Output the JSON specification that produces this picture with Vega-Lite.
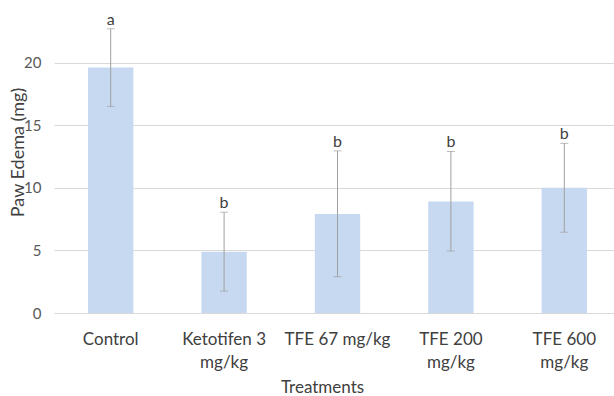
{
  "$schema": "https://vega.github.io/schema/vega-lite/v6.json",
  "autosize": "none",
  "width": 560,
  "height": 313,
  "padding": {"left": 54, "top": 0, "right": 0, "bottom": 83},
  "background": "white",
  "config": {
    "view": {"stroke": null},
    "font": "Lato",
    "axis": {"labelFont": "Lato", "titleFont": "Lato", "titleFontWeight": "normal"}
  },
  "data": {
    "values": [
      {"treatment": "Control", "edema": 19.6, "lo": 16.5, "hi": 22.7, "group": "a"},
      {"treatment": "Ketotifen 3 mg/kg", "edema": 4.9, "lo": 1.75, "hi": 8.05, "group": "b"},
      {"treatment": "TFE 67 mg/kg", "edema": 7.9, "lo": 2.9, "hi": 12.95, "group": "b"},
      {"treatment": "TFE 200 mg/kg", "edema": 8.9, "lo": 4.95, "hi": 12.9, "group": "b"},
      {"treatment": "TFE 600 mg/kg", "edema": 10.0, "lo": 6.45, "hi": 13.55, "group": "b"}
    ]
  },
  "encoding": {
    "x": {
      "field": "treatment",
      "type": "nominal",
      "sort": null,
      "scale": {"range": [0, 567], "paddingInner": 0.6, "paddingOuter": 0.3},
      "axis": {
        "title": "Treatments",
        "titleFontSize": 17,
        "titleColor": "#404040",
        "titleX": 268,
        "titleY": 74,
        "titleBaseline": "middle",
        "labelAngle": 0,
        "labelFontSize": 17,
        "labelColor": "#404040",
        "labelPadding": 26,
        "labelLineHeight": 23,
        "labelBaseline": "middle",
        "labelExpr": "datum.label == 'Control' || datum.label == 'TFE 67 mg/kg' ? datum.label : [replace(datum.label, ' mg/kg', ''), 'mg/kg']",
        "ticks": false,
        "domain": false,
        "grid": false
      }
    }
  },
  "layer": [
    {
      "mark": {"type": "bar", "color": "#c6d9f1"},
      "encoding": {
        "y": {
          "field": "edema",
          "type": "quantitative",
          "scale": {"domain": [0, 25], "nice": false},
          "axis": {
            "title": "Paw Edema (mg)",
            "titleFontSize": 18,
            "titleColor": "#404040",
            "titleX": -36,
            "titleY": 152,
            "titleAngle": -90,
            "titleBaseline": "middle",
            "titleAlign": "center",
            "values": [0, 5, 10, 15, 20],
            "labelFontSize": 15,
            "labelColor": "#595959",
            "labelPadding": 13,
            "ticks": false,
            "domain": false,
            "grid": true,
            "gridColor": "#d9d9d9",
            "gridWidth": 1
          }
        }
      }
    },
    {
      "mark": {"type": "rule", "color": "#a0a0a0", "strokeWidth": 1},
      "encoding": {
        "y": {"field": "lo", "type": "quantitative"},
        "y2": {"field": "hi"}
      }
    },
    {
      "mark": {"type": "tick", "color": "#a0a0a0", "size": 8, "thickness": 1},
      "encoding": {"y": {"field": "lo", "type": "quantitative"}}
    },
    {
      "mark": {"type": "tick", "color": "#a0a0a0", "size": 8, "thickness": 1},
      "encoding": {"y": {"field": "hi", "type": "quantitative"}}
    },
    {
      "mark": {"type": "text", "fontSize": 16, "color": "#404040", "baseline": "alphabetic", "dy": -4, "font": "Lato"},
      "encoding": {
        "y": {"field": "hi", "type": "quantitative"},
        "text": {"field": "group"}
      }
    }
  ]
}
